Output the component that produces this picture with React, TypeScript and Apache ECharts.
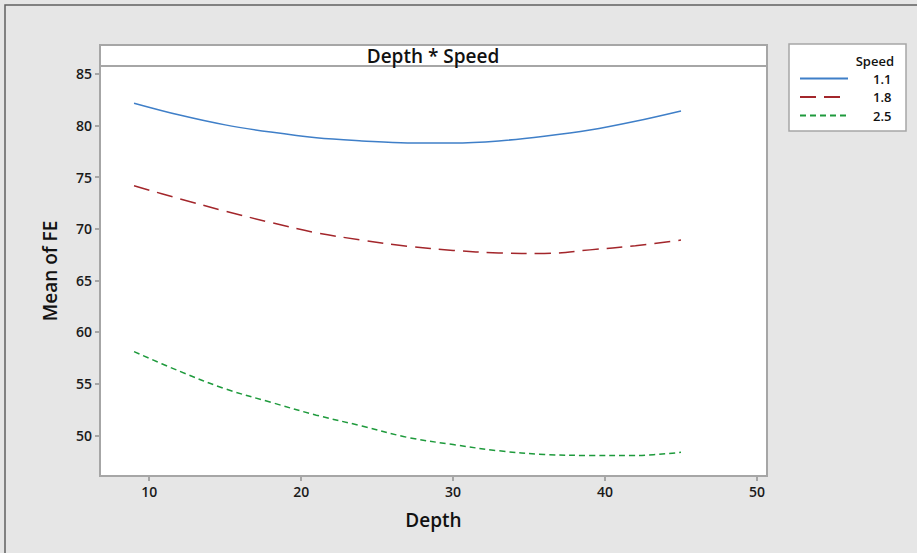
import React, { useEffect, useRef } from "react";
import * as echarts from "echarts";

const depth = [9, 12, 15, 18, 21, 24, 27, 30, 33, 36, 39, 42, 45];
const speedLabels = ["1.1", "1.8", "2.5"];
const fe11 = [82.15, 81.0, 80.05, 79.35, 78.8, 78.5, 78.3, 78.3, 78.5, 78.95, 79.55, 80.4, 81.4];
const fe18 = [74.15, 72.9, 71.7, 70.6, 69.6, 68.9, 68.3, 67.9, 67.65, 67.6, 67.95, 68.35, 68.9];
const fe25 = [58.1, 56.2, 54.5, 53.2, 51.95, 50.9, 49.8, 49.1, 48.5, 48.15, 48.05, 48.05, 48.35];
const xTicks = [10, 20, 30, 40, 50];
const yTicks = [50, 55, 60, 65, 70, 75, 80, 85];

const FONT = "'Open Sans', 'Noto Sans', sans-serif";

export default function App() {
  const ref = useRef<HTMLDivElement>(null);
  useEffect(() => {
    document.body.style.margin = "0";
    const chart = echarts.init(ref.current!, null, { renderer: "svg" });
    const toPairs = (vals: number[]) => depth.map((d, i) => [d, vals[i]]);
    const colors = ["#3f7fc8", "#a3262b", "#1e9a3c"];
    const dashes: any[] = ["solid", [16, 8], [6, 4]];
    const allData = [fe11, fe18, fe25];
    const option: any = {
      animation: false,
      backgroundColor: "#e6e6e6",
      textStyle: { fontFamily: FONT },
      grid: {
        left: 100,
        right: 150,
        top: 66,
        bottom: 77,
        show: true,
        backgroundColor: "#ffffff",
        borderColor: "#a6a6a6",
        borderWidth: 2,
      },
      graphic: [
        {
          type: "rect",
          shape: { x: 5, y: 5, width: 940, height: 570 },
          style: { fill: "none", stroke: "#606060", lineWidth: 1.5 },
          silent: true,
        },
        {
          type: "rect",
          shape: { x: 100, y: 45, width: 667, height: 21 },
          style: { fill: "#ffffff", stroke: "#a6a6a6", lineWidth: 2 },
          silent: true,
        },
        {
          type: "text",
          x: 433,
          y: 56,
          style: {
            text: "Depth * Speed",
            fontFamily: FONT,
            fontSize: 19,
            fontWeight: 600,
            fill: "#111",
            align: "center",
            verticalAlign: "middle",
          },
        },
        {
          type: "rect",
          shape: { x: 789, y: 44, width: 117, height: 87 },
          style: { fill: "#ffffff", stroke: "#a6a6a6", lineWidth: 1.5 },
          silent: true,
          z: -1,
        },
        {
          type: "text",
          x: 894,
          y: 61,
          z: 10,
          style: {
            text: "Speed",
            fontFamily: FONT,
            fontSize: 13,
            fontWeight: 600,
            fill: "#111",
            align: "right",
            verticalAlign: "middle",
          },
        },
      ],
      legend: {
        orient: "vertical",
        left: 794,
        top: 67,
        itemWidth: 48,
        itemHeight: 14,
        itemGap: 5.5,
        z: 10,
        itemStyle: { opacity: 0 },
        textStyle: {
          fontFamily: FONT,
          fontSize: 13,
          fontWeight: 600,
          color: "#111",
          padding: [0, 0, 0, 20],
        },
        data: speedLabels,
      },
      xAxis: {
        type: "value",
        min: 6.76,
        max: 50.66,
        name: "Depth",
        nameLocation: "middle",
        nameGap: 34,
        nameTextStyle: { fontFamily: FONT, fontSize: 19, fontWeight: 600, color: "#111" },
        axisLine: { show: false },
        axisTick: {
          show: true,
          length: 5,
          lineStyle: { color: "#a6a6a6", width: 2 },
          customValues: xTicks,
        },
        axisLabel: {
          fontFamily: FONT,
          fontSize: 14,
          fontWeight: 600,
          color: "#1a1a1a",
          margin: 8,
          customValues: xTicks,
        },
        splitLine: { show: false },
      },
      yAxis: {
        type: "value",
        min: 46.06,
        max: 85.75,
        name: "Mean of FE",
        nameLocation: "middle",
        nameGap: 41,
        nameRotate: 90,
        nameTextStyle: { fontFamily: FONT, fontSize: 19, fontWeight: 600, color: "#111" },
        axisLine: { show: false },
        axisTick: {
          show: true,
          length: 5,
          lineStyle: { color: "#a6a6a6", width: 2 },
          customValues: yTicks,
        },
        axisLabel: {
          fontFamily: FONT,
          fontSize: 14,
          fontWeight: 600,
          color: "#1a1a1a",
          margin: 8,
          customValues: yTicks,
        },
        splitLine: { show: false },
      },
      series: speedLabels.map((s, i) => ({
        name: s,
        type: "line",
        data: toPairs(allData[i]),
        smooth: 0.35,
        showSymbol: false,
        symbol: "none",
        color: colors[i],
        lineStyle: { color: colors[i], width: 1.5, type: dashes[i] },
      })),
    };
    chart.setOption(option);
    return () => chart.dispose();
  }, []);
  return <div ref={ref} style={{ position: "fixed", left: 0, top: 0, width: 917, height: 553 }} />;
}
